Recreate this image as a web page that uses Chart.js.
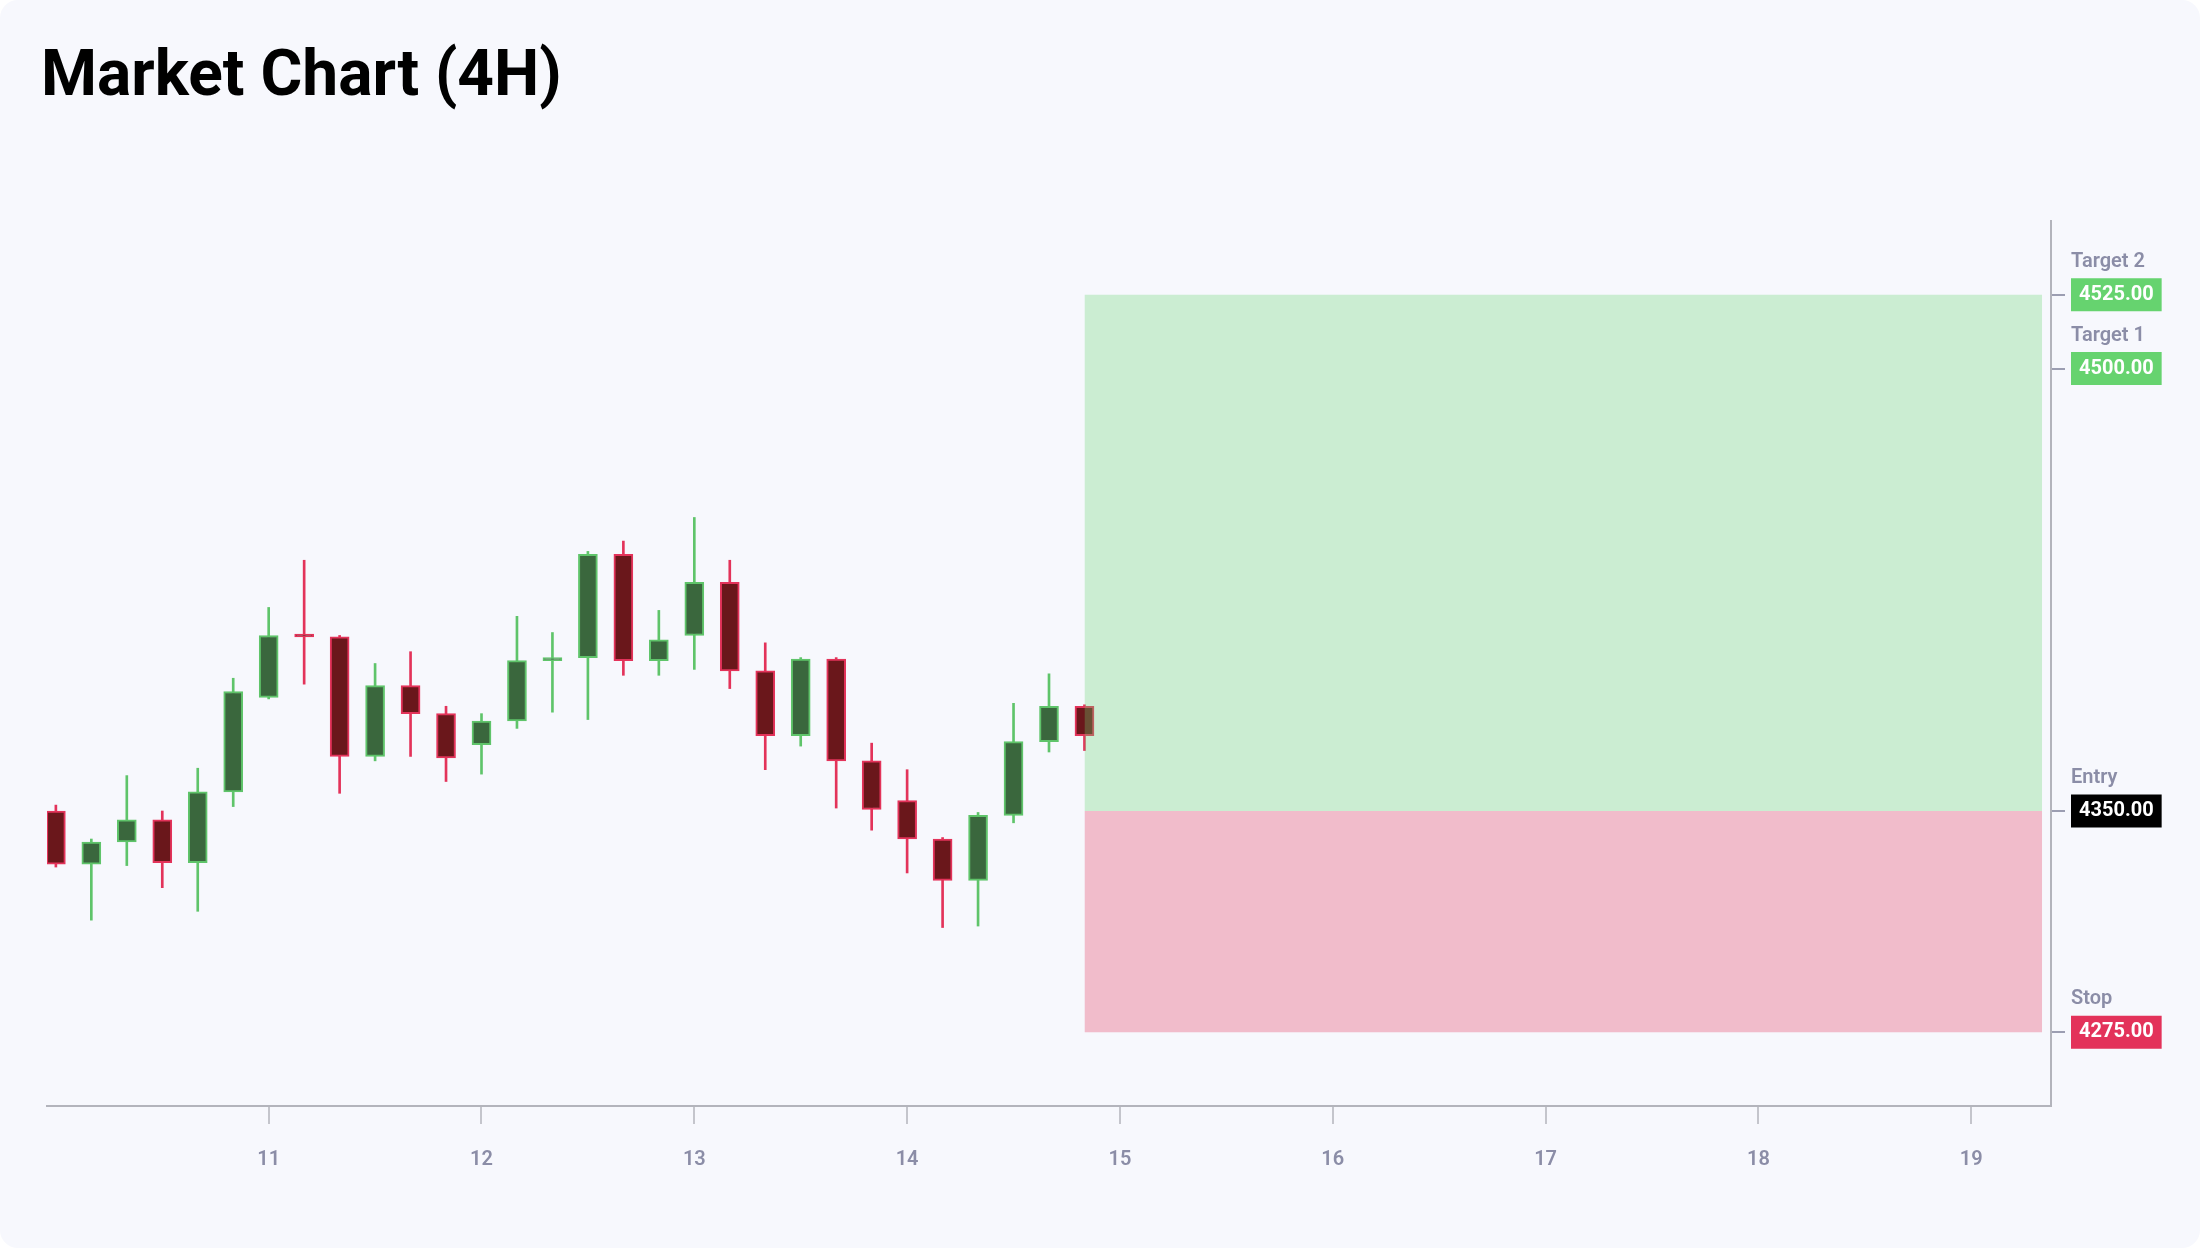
<!DOCTYPE html>
<html><head><meta charset="utf-8">
<script src="https://cdn.jsdelivr.net/npm/chart.js@4.4.1/dist/chart.umd.min.js"></script>
<style>
html,body{margin:0;padding:0;background:#ffffff;width:2200px;height:1248px;overflow:hidden}
#card{position:absolute;left:0;top:0;width:2200px;height:1248px;border-radius:18px;background:#f7f8fd}
h1{position:absolute;left:41px;top:42px;margin:0;font:700 64px/64px Roboto,"Liberation Sans",sans-serif;color:#000}
#wrap{position:absolute;left:0;top:0;width:2200px;height:1248px}
</style></head><body>
<div id="card"></div>
<h1>Market Chart (4H)</h1>
<div id="wrap"><canvas id="c"></canvas></div>
<script>
// ---- data ----
const startDay = 10;          // first candle: day 10, 00:00
const candleHours = 4;        // 4H candles
const opens  = [4350,4332,4339.5,4347,4332.5,4356.5,4388.5,4410,4409,4368.5,4392.5,4383,4372.5,4380.5,4401,4402,4437,4401,4409.5,4427.5,4397.5,4375.5,4401.5,4367,4353.5,4340.5,4326.5,4348.5,4373.5,4385.5];
const highs  = [4352,4340.5,4362,4350,4364.5,4395,4419,4435,4409.5,4400,4404,4385.5,4383,4416,4410.5,4438,4441.5,4418,4449.5,4435,4407,4402,4402,4373,4364,4341,4349.5,4386.5,4396.5,4386];
const lows   = [4331,4313,4331.5,4324,4316,4351.5,4388,4393,4356,4367,4368.5,4360,4362.5,4378,4383.5,4381,4396,4396,4398,4391.5,4364,4372,4351,4343.5,4329,4310.5,4311,4346,4370,4370.5];
const closes = [4332,4339.5,4347,4332.5,4356.5,4390.5,4409.5,4409,4368.5,4392.5,4383,4368,4380.5,4401,4402,4437,4401,4408,4427.5,4397.5,4375.5,4401.5,4367,4350.5,4340.5,4326.5,4348.5,4373.5,4385.5,4375.5];
const xTickDays = [11,12,13,14,15,16,17,18,19];
const levelNames  = ['Target 2','Target 1','Entry','Stop'];
const levelValues = [4525,4500,4350,4275];
const levelColors = ['#66d36f','#66d36f','#000000','#e3325a'];
const entryPrice = 4350, target2Price = 4525, stopPrice = 4275;
const zoneStartDay = 14 + 20/24;   // last candle time
const zoneEndDay   = 19 + 8/24;
const yMin = 4250, yMax = 4550;

// ---- styling ----
const UP_BODY = '#3a673d', UP_EDGE = '#5fc46a';
const DN_BODY = '#6a171b', DN_EDGE = '#e3335a';
const candleX = i => startDay + i * candleHours / 24;
const isUp = i => closes[i] >= opens[i];
const idx = opens.map((_, i) => i);

const levelNamePlugin = {
  id: 'levelNames',
  afterDraw(chart) {
    const ys = chart.scales.y, ctx = chart.ctx;
    ctx.save();
    ctx.font = '600 20px Roboto';
    ctx.fillStyle = '#8b8da7';
    ctx.textAlign = 'left';
    ctx.textBaseline = 'alphabetic';
    levelValues.forEach((v, i) => {
      ctx.fillText(levelNames[i], chart.chartArea.right + 20, ys.getPixelForValue(v) - 28);
    });
    ctx.restore();
  }
};

function build() {
  new Chart(document.getElementById('c'), {
    type: 'bar',
    data: {
      datasets: [
        {
          type: 'line', order: 0,
          data: [{x: zoneStartDay, y: target2Price}, {x: zoneEndDay, y: target2Price}],
          borderColor: 'transparent', borderWidth: 0, pointRadius: 0,
          fill: {value: entryPrice}, backgroundColor: 'rgba(102,211,112,0.30)'
        },
        {
          type: 'line', order: 0,
          data: [{x: zoneStartDay, y: stopPrice}, {x: zoneEndDay, y: stopPrice}],
          borderColor: 'transparent', borderWidth: 0, pointRadius: 0,
          fill: {value: entryPrice}, backgroundColor: 'rgba(227,50,90,0.30)'
        },
        {
          type: 'bar', order: 1, grouped: false,
          data: idx.map(i => ({x: candleX(i), y: [opens[i], closes[i]]})),
          backgroundColor: idx.map(i => isUp(i) ? UP_BODY : DN_BODY),
          borderColor: idx.map(i => isUp(i) ? UP_EDGE : DN_EDGE),
          borderWidth: 2, borderSkipped: false, barThickness: 19
        },
        {
          type: 'bar', order: 2, grouped: false,
          data: idx.map(i => ({x: candleX(i), y: [lows[i], highs[i]]})),
          backgroundColor: idx.map(i => isUp(i) ? UP_EDGE : DN_EDGE),
          borderWidth: 0, barThickness: 2
        }
      ]
    },
    options: {
      responsive: true, maintainAspectRatio: false, animation: false,
      layout: {padding: {left: 47, top: 221, right: 0, bottom: 0}},
      plugins: {legend: {display: false}, tooltip: {enabled: false}, title: {display: false}},
      scales: {
        x: {
          type: 'linear', position: 'bottom', offset: false,
          min: startDay - 1/24, max: zoneEndDay + 1/24,
          afterBuildTicks: s => { s.ticks = xTickDays.map(v => ({value: v})); },
          afterFit: s => { s.height = 142; },
          ticks: {color: '#8b8da7', font: {family: 'Roboto', size: 20, weight: '600'}, padding: 24,
                  maxRotation: 0, autoSkip: false, callback: v => String(v)},
          grid: {drawOnChartArea: false, drawTicks: true, tickLength: 18, color: '#c4c5cc', lineWidth: 2, offset: false},
          border: {display: true, color: '#b3b4bc', width: 2}
        },
        y: {
          type: 'linear', position: 'right', min: yMin, max: yMax, beginAtZero: false,
          afterBuildTicks: s => { s.ticks = levelValues.map(v => ({value: v})); },
          afterFit: s => { s.width = 149; },
          ticks: {color: '#ffffff', font: {family: 'Roboto', size: 20, weight: 'bold'}, padding: 14,
                  autoSkip: false, callback: v => Number(v).toFixed(2),
                  showLabelBackdrop: true, backdropColor: c => levelColors[c.index],
                  backdropPadding: {left: 8, right: 8, top: 4.5, bottom: 4.5}},
          grid: {drawOnChartArea: false, drawTicks: true, tickLength: 14, color: '#9c9eb2', lineWidth: 2},
          border: {display: true, color: '#b3b4bc', width: 2}
        }
      }
    },
    plugins: [levelNamePlugin]
  });
}
const fontsReady = document.fonts && document.fonts.load
  ? Promise.all([document.fonts.load('700 20px Roboto'), document.fonts.load('600 20px Roboto')]).catch(() => {})
  : Promise.resolve();
fontsReady.then(build, build);
</script>
</body></html>
